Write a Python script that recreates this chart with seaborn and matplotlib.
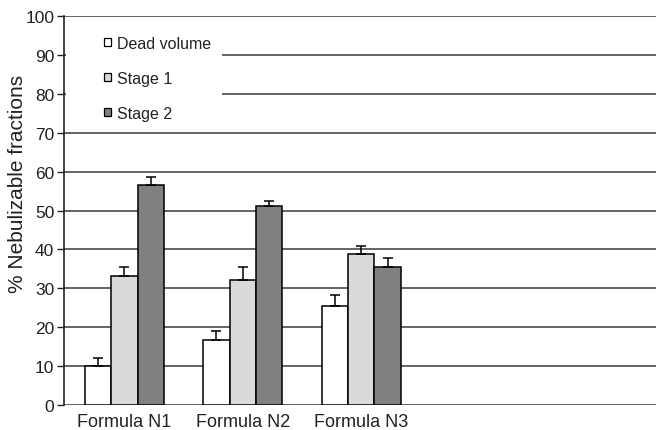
import matplotlib
matplotlib.use("Agg")
import matplotlib.pyplot as plt
import matplotlib.patches as mpatches
import seaborn as sns
import pandas as pd
import numpy as np

formulas = ["Formula N1", "Formula N2", "Formula N3"]
stages = ["Dead volume", "Stage 1", "Stage 2"]
dead_volume = [10.1, 16.6, 25.4]
stage_1 = [33.2, 32.2, 38.7]
stage_2 = [56.5, 51.1, 35.5]
dead_err = [2.0, 2.3, 3.0]
stage1_err = [2.3, 3.3, 2.1]
stage2_err = [2.1, 1.4, 2.3]

df = pd.DataFrame({
    "formula": formulas * 3,
    "stage": [s for s in stages for _ in formulas],
    "value": dead_volume + stage_1 + stage_2,
    "err": dead_err + stage1_err + stage2_err,
})

sns.set_style("white")
plt.rcParams["font.family"] = ["Liberation Sans", "DejaVu Sans"]

fig = plt.figure(figsize=(6.56, 4.31), dpi=100)
ax = fig.add_axes([64 / 656, 1 - 406 / 431, 592 / 656, 389 / 431])

colors = ["white", "#dadada", "#808080"]
sns.barplot(data=df, x="formula", y="value", hue="stage", palette=colors,
            width=0.67, edgecolor="black", linewidth=1.1, ax=ax, legend=False, zorder=2)

# error bars, upward only
for patch, (_, row) in zip(ax.patches, df.iterrows()):
    xc = patch.get_x() + patch.get_width() / 2
    ax.errorbar(xc, row["value"], yerr=[[0], [row["err"]]], fmt="none",
                ecolor="black", elinewidth=1.1, capsize=3.5, capthick=1.1, zorder=3)

ax.set_xlim(-0.51, 4.49)
ax.set_ylim(0, 100)
ax.set_yticks(range(0, 101, 10))
ax.set_axisbelow(True)
ax.yaxis.grid(True, color="#3a3a3a", linewidth=1.1)
ax.xaxis.grid(False)
for side in ["top", "right", "bottom"]:
    ax.spines[side].set_visible(False)
ax.spines["left"].set_color("#222222")
ax.spines["left"].set_linewidth(1.2)
ax.tick_params(axis="y", left=True, length=5, width=1, color="#222222",
               labelsize=12.5, labelcolor="#222222", pad=2)
ax.tick_params(axis="x", bottom=False, labelsize=13, labelcolor="#222222", pad=2)
ax.set_xlabel("")
ax.set_ylabel("% Nebulizable fractions", fontsize=15, color="#222222")
ax.yaxis.set_label_coords(-0.062, 0.571)

# white backing behind legend (hides grid lines)
ax.add_patch(mpatches.Rectangle((0.003, 0.73), 0.264, 0.24, transform=ax.transAxes,
                                facecolor="white", edgecolor="none", zorder=1))

handles = [mpatches.Patch(facecolor=c, edgecolor="black", linewidth=0.9) for c in colors]
ax.legend(handles, stages, loc="upper left", bbox_to_anchor=(0.068, 0.949),
          frameon=False, fontsize=11.5, handlelength=0.45, handleheight=0.45,
          handletextpad=0.35, labelspacing=1.25, borderaxespad=0, borderpad=0,
          labelcolor="#222222")

fig.savefig("out.png", dpi=100)
